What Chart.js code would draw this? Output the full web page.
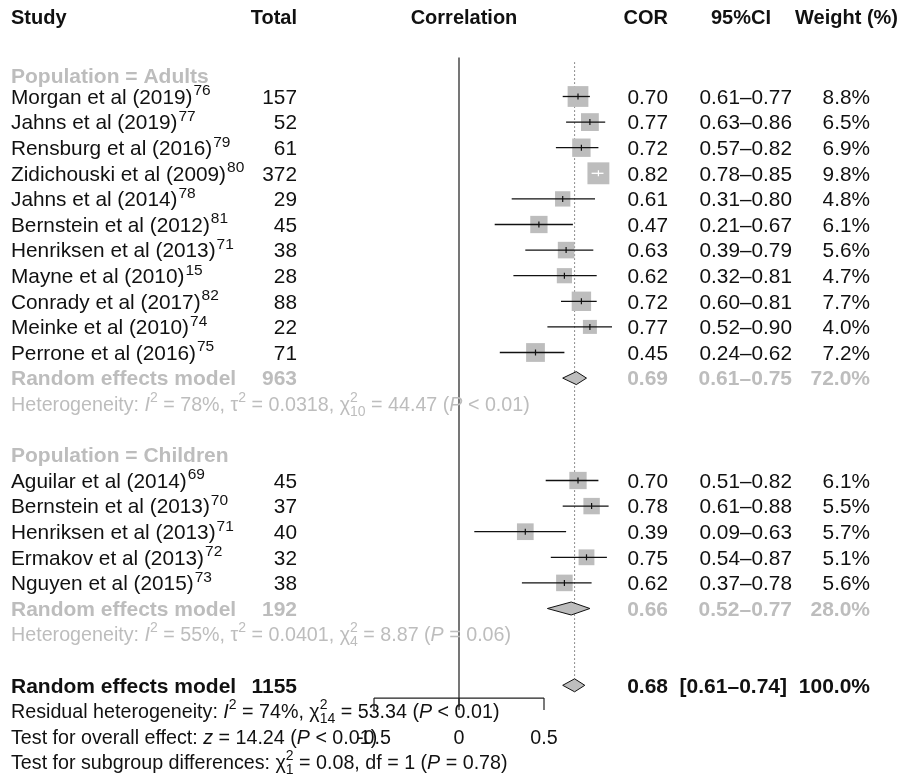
<!DOCTYPE html>
<html>
<head>
<meta charset="utf-8">
<script src="https://cdn.jsdelivr.net/npm/chart.js@4.4.1/dist/chart.umd.min.js"></script>
<style>
html, body { margin: 0; padding: 0; background: #fff; }
canvas { display: block; }
</style>
</head>
<body>
<canvas id="forest" width="907" height="775"></canvas>
<script>
// ---- data ----
const groupNames = ['Adults', 'Children']
const groupSizes = [11, 5]

const studies = ['Morgan et al (2019)', 'Jahns et al (2019)', 'Rensburg et al (2016)', 'Zidichouski et al (2009)',
  'Jahns et al (2014)', 'Bernstein et al (2012)', 'Henriksen et al (2013)', 'Mayne et al (2010)',
  'Conrady et al (2017)', 'Meinke et al (2010)', 'Perrone et al (2016)',
  'Aguilar et al (2014)', 'Bernstein et al (2013)', 'Henriksen et al (2013)', 'Ermakov et al (2013)', 'Nguyen et al (2015)']
const refs = ['76', '77', '79', '80', '78', '81', '71', '15', '82', '74', '75', '69', '70', '71', '72', '73']
const totals = [157, 52, 61, 372, 29, 45, 38, 28, 88, 22, 71, 45, 37, 40, 32, 38]
const cor = [0.70, 0.77, 0.72, 0.82, 0.61, 0.47, 0.63, 0.62, 0.72, 0.77, 0.45, 0.70, 0.78, 0.39, 0.75, 0.62]
const lower = [0.61, 0.63, 0.57, 0.78, 0.31, 0.21, 0.39, 0.32, 0.60, 0.52, 0.24, 0.51, 0.61, 0.09, 0.54, 0.37]
const upper = [0.77, 0.86, 0.82, 0.85, 0.80, 0.67, 0.79, 0.81, 0.81, 0.90, 0.62, 0.82, 0.88, 0.63, 0.87, 0.78]
const weights = [8.8, 6.5, 6.9, 9.8, 4.8, 6.1, 5.6, 4.7, 7.7, 4.0, 7.2, 6.1, 5.5, 5.7, 5.1, 5.6]

const groupTotal = [963, 192]
const groupCor = [0.69, 0.66]
const groupLower = [0.61, 0.52]
const groupUpper = [0.75, 0.77]
const groupWeight = [72.0, 28.0]

const overallTotal = 1155
const overallCor = 0.68
const overallLower = 0.61
const overallUpper = 0.74

const xTicks = [-0.5, 0, 0.5]

const hetText = [
  [['Heterogeneity: ', 'n'], ['I', 'i'], ['2', 'sup'], [' = 78%, \u03c4', 'n'], ['2', 'sup'], [' = 0.0318, \u03c7', 'n'], ['2|10', 'ss'], [' = 44.47 (', 'n'], ['P', 'i'], [' < 0.01)', 'n']],
  [['Heterogeneity: ', 'n'], ['I', 'i'], ['2', 'sup'], [' = 55%, \u03c4', 'n'], ['2', 'sup'], [' = 0.0401, \u03c7', 'n'], ['2|4', 'ss'], [' = 8.87 (', 'n'], ['P', 'i'], [' = 0.06)', 'n']]
]
const footText = [
  [['Residual heterogeneity: ', 'n'], ['I', 'i'], ['2', 'sup'], [' = 74%, \u03c7', 'n'], ['2|14', 'ss'], [' = 53.34 (', 'n'], ['P', 'i'], [' < 0.01)', 'n']],
  [['Test for overall effect: ', 'n'], ['z', 'i'], [' = 14.24 (', 'n'], ['P', 'i'], [' < 0.01)', 'n']],
  [['Test for subgroup differences: \u03c7', 'n'], ['2|1', 'ss'], [' = 0.08, df = 1 (', 'n'], ['P', 'i'], [' = 0.78)', 'n']]
]

// ---- layout ----
const W = 907, H = 775
const ZERO_PX = 459, UNIT_PX = 170      // x: correlation 0 at 459px, 170px per unit
const TOP_PX = 96.5, ROW_PX = 25.6       // y: first study row centre, row height
const GREY = '#bdbdbd'
const FONT = '"Liberation Sans", Arial, Helvetica, sans-serif'
const DH = 6.5 / ROW_PX                  // diamond half height in rows
const FS = 20.8, FSB = 21, FSH = 20, FSS = 19.7

// rows
const rowOf = []
const headRow = [], reRow = [], hetRow = []
let r = -1
groupNames.forEach((g, gi) => {
  headRow.push(gi === 0 ? r + 0.2 : r)
  r++
  for (let k = 0; k < groupSizes[gi]; k++) rowOf.push(r++)
  reRow.push(r++)
  hetRow.push(r++)
  r++
})
const overallRow = r
const footRows = [r + 1, r + 2, r + 3]
const axisRow = overallRow + 0.5
const tickLabelRow = overallRow + 2

const side = weights.map(w => 7 * Math.sqrt(w))
const ciColor = cor.map((v, i) =>
  ((v - lower[i]) * UNIT_PX < side[i] / 2 && (upper[i] - v) * UNIT_PX < side[i] / 2) ? '#fff' : '#111')
const pts = cor.map((v, i) => ({ x: v, y: rowOf[i] }))

const datasets = []

datasets.push({
  data: pts, showLine: false, order: 0,
  pointStyle: 'line', rotation: 90, pointRadius: 3, pointHoverRadius: 3,
  pointBorderColor: ciColor, pointBorderWidth: 1.2
})

cor.forEach((v, i) => {
  datasets.push({
    data: [{ x: lower[i], y: rowOf[i] }, { x: upper[i], y: rowOf[i] }],
    borderColor: ciColor[i], borderWidth: 1.3, pointRadius: 0, order: 1
  })
})

datasets.push({
  data: pts, showLine: false, order: 2,
  pointStyle: 'rect', pointRadius: side.map(s => s / Math.SQRT2), pointHoverRadius: side.map(s => s / Math.SQRT2),
  pointBackgroundColor: GREY, pointBorderWidth: 0, pointBorderColor: GREY
})

const pooled = groupCor.map((v, gi) => ({ est: v, lo: groupLower[gi], hi: groupUpper[gi], row: reRow[gi] }))
pooled.push({ est: overallCor, lo: overallLower, hi: overallUpper, row: overallRow })
pooled.forEach(p => {
  datasets.push({
    data: [{ x: p.lo, y: p.row }, { x: p.est, y: p.row - DH }, { x: p.hi, y: p.row }, { x: p.est, y: p.row + DH }, { x: p.lo, y: p.row }],
    borderColor: '#111', borderWidth: 1, backgroundColor: GREY, fill: 'shape', pointRadius: 0, tension: 0, order: 2
  })
})

// zero line and dotted overall line
datasets.push({
  data: [{ x: 0, y: -1.52 }, { x: 0, y: overallRow + 0.85 }],
  borderColor: '#555', borderWidth: 1.6, pointRadius: 0, order: 3
})
datasets.push({
  data: [{ x: overallCor, y: -1.33 }, { x: overallCor, y: overallRow - DH }],
  borderColor: '#444', borderWidth: 1, borderDash: [1.2, 2.8], pointRadius: 0, order: 3
})

function setFont(ctx, size, style) {
  ctx.font = (style ? style + ' ' : '') + size + 'px ' + FONT
}

function rich(ctx, x, y, parts, color, size) {
  const small = Math.round(size * 0.72)
  ctx.fillStyle = color
  ctx.textAlign = 'left'
  ctx.textBaseline = 'alphabetic'
  for (const [t, k] of parts) {
    if (k === 'ss') {
      const [sp, sb] = t.split('|')
      setFont(ctx, small, '')
      ctx.fillText(sp, x, y - 9)
      ctx.fillText(sb, x, y + 5)
      x += Math.max(ctx.measureText(sp).width, ctx.measureText(sb).width)
      continue
    }
    if (k === 'sup') {
      setFont(ctx, small, '')
      ctx.fillText(t, x, y - 9)
      x += ctx.measureText(t).width
      continue
    }
    setFont(ctx, size, k === 'i' ? 'italic' : k === 'b' ? 'bold' : '')
    ctx.fillText(t, x, y)
    x += ctx.measureText(t).width
  }
}

function txt(ctx, s, x, y, align, style, color, size) {
  setFont(ctx, size || (style === 'bold' ? FSB : FS), style)
  ctx.fillStyle = color
  ctx.textAlign = align
  ctx.textBaseline = 'alphabetic'
  ctx.fillText(s, x, y)
}

const textPlugin = {
  id: 'forestText',
  afterDraw(chart) {
    const ctx = chart.ctx
    const xs = chart.scales.x, ys = chart.scales.y
    const base = row => ys.getPixelForValue(row) + 7.3
    ctx.save()

    // header
    const hy = base(-3.1)
    txt(ctx, 'Study', 11, hy, 'left', 'bold', '#111', FSH)
    txt(ctx, 'Total', 297, hy, 'right', 'bold', '#111', FSH)
    txt(ctx, 'Correlation', 464, hy, 'center', 'bold', '#111', FSH)
    txt(ctx, 'COR', 668, hy, 'right', 'bold', '#111', FSH)
    txt(ctx, '95%CI', 741, hy, 'center', 'bold', '#111', FSH)
    txt(ctx, 'Weight (%)', 898, hy, 'right', 'bold', '#111', FSH)

    groupNames.forEach((g, gi) => {
      txt(ctx, 'Population = ' + g, 11, base(headRow[gi]), 'left', 'bold', GREY)
      const y = base(reRow[gi])
      txt(ctx, 'Random effects model', 11, y, 'left', 'bold', GREY)
      txt(ctx, String(groupTotal[gi]), 297, y, 'right', 'bold', GREY)
      txt(ctx, groupCor[gi].toFixed(2), 668, y, 'right', 'bold', GREY)
      txt(ctx, groupLower[gi].toFixed(2) + '\u2013' + groupUpper[gi].toFixed(2), 792, y, 'right', 'bold', GREY)
      txt(ctx, groupWeight[gi].toFixed(1) + '%', 870, y, 'right', 'bold', GREY)
      rich(ctx, 11, base(hetRow[gi]), hetText[gi], GREY, FSS)
    })

    studies.forEach((s, i) => {
      const y = base(rowOf[i])
      setFont(ctx, FS, '')
      const w = ctx.measureText(s).width
      txt(ctx, s, 11, y, 'left', '', '#111')
      setFont(ctx, 15.5, '')
      ctx.fillText(refs[i], 12 + w, y - 8.5)
      txt(ctx, String(totals[i]), 297, y, 'right', '', '#111')
      txt(ctx, cor[i].toFixed(2), 668, y, 'right', '', '#111')
      txt(ctx, lower[i].toFixed(2) + '\u2013' + upper[i].toFixed(2), 792, y, 'right', '', '#111')
      txt(ctx, weights[i].toFixed(1) + '%', 870, y, 'right', '', '#111')
    })

    const oy = base(overallRow)
    txt(ctx, 'Random effects model', 11, oy, 'left', 'bold', '#111')
    txt(ctx, String(overallTotal), 297, oy, 'right', 'bold', '#111')
    txt(ctx, overallCor.toFixed(2), 668, oy, 'right', 'bold', '#111')
    txt(ctx, '[' + overallLower.toFixed(2) + '\u2013' + overallUpper.toFixed(2) + ']', 787, oy, 'right', 'bold', '#111')
    txt(ctx, '100.0%', 870, oy, 'right', 'bold', '#111')

    footText.forEach((parts, k) => rich(ctx, 11, base(footRows[k]), parts, '#111', FSS))

    // x axis
    const ay = ys.getPixelForValue(axisRow)
    ctx.strokeStyle = '#222'
    ctx.lineWidth = 1.2
    ctx.beginPath()
    ctx.moveTo(xs.getPixelForValue(xTicks[0]), ay)
    ctx.lineTo(xs.getPixelForValue(xTicks[xTicks.length - 1]), ay)
    xTicks.forEach(t => {
      const px = xs.getPixelForValue(t)
      ctx.moveTo(px, ay)
      ctx.lineTo(px, ay + 12)
    })
    ctx.stroke()
    xTicks.forEach(t => txt(ctx, String(t), xs.getPixelForValue(t), base(tickLabelRow), 'center', '', '#111', FSS))

    ctx.restore()
  }
}

const chart = new Chart(document.getElementById('forest'), {
  type: 'line',
  data: { datasets: datasets },
  options: {
    responsive: false,
    animation: false,
    events: [],
    layout: { padding: 0, autoPadding: false },
    plugins: { legend: { display: false }, tooltip: { enabled: false } },
    scales: {
      x: { type: 'linear', display: false, min: -ZERO_PX / UNIT_PX, max: (W - ZERO_PX) / UNIT_PX },
      y: { type: 'linear', display: false, reverse: true, min: -TOP_PX / ROW_PX, max: (H - TOP_PX) / ROW_PX }
    }
  },
  plugins: [textPlugin]
})
</script>
</body>
</html>
